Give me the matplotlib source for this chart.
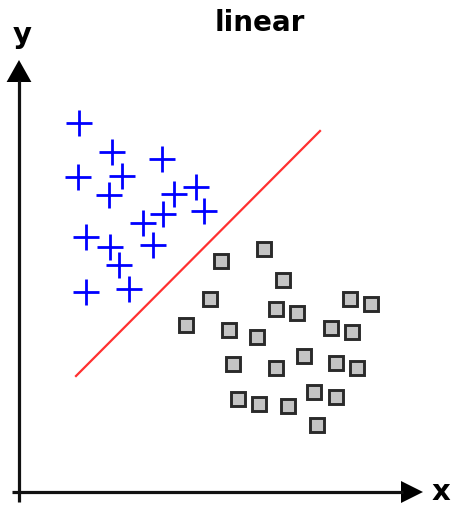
import numpy as np
import matplotlib.pyplot as plt
from matplotlib.patches import Polygon

# class A (plus signs)
plus_x = [15.0, 23.25, 35.75, 14.75, 25.75, 22.5, 44.25, 38.75, 46.25, 36.0,
          31.0, 16.75, 22.75, 33.5, 25.0, 16.75, 27.5]
plus_y = [92.25, 85.0, 83.25, 78.75, 79.0, 74.25, 76.25, 74.5, 70.25, 69.5,
          67.25, 63.75, 61.25, 61.75, 56.75, 50.0, 50.75]

# class B (squares)
sq_x = [50.5, 61.25, 66.0, 47.75, 64.25, 69.5, 82.75, 88.0, 41.75, 52.5,
        59.5, 78.0, 83.25, 53.5, 64.25, 71.25, 79.25, 84.5, 54.75, 60.0,
        67.25, 73.75, 79.25, 74.5]
sq_y = [57.75, 60.75, 53.0, 48.25, 45.75, 44.75, 48.25, 47.0, 41.75, 40.5,
        38.75, 41.0, 40.0, 32.0, 31.0, 34.0, 32.25, 31.0, 23.25, 22.0,
        21.5, 25.0, 23.75, 16.75]

# separating line
line_x = [14.25, 75.25]
line_y = [29.0, 90.25]

fig = plt.figure(figsize=(4.56, 5.06), dpi=100)
ax = fig.add_axes([0, 0, 1, 1])
ax.set_xlim(-4.75, 109.25)
ax.set_ylim(-3.25, 123.25)
ax.axis('off')

# axes with arrow heads
ax.plot([0, 0], [-2.5, 103], color='#111111', lw=2.3, solid_capstyle='butt')
ax.plot([-1.75, 96], [0, 0], color='#111111', lw=2.3, solid_capstyle='butt')
ax.add_patch(Polygon([[-3.1, 102.5], [3.1, 102.5], [0, 108]], closed=True,
                     color='black', lw=0))
ax.add_patch(Polygon([[95.5, -2.75], [95.5, 2.75], [101, 0]], closed=True,
                     color='black', lw=0))

ax.plot(line_x, line_y, color='#ff3030', lw=1.6)

ax.plot(plus_x, plus_y, ls='none', marker='+', ms=19, mew=2.0, color='#0000ff')
ax.plot(sq_x, sq_y, ls='none', marker='s', ms=10.5, mew=2.1,
        markerfacecolor='#c4c4c4', markeredgecolor='#2a2a2a')

ax.text(0.7, 114.5, 'y', fontsize=21, fontweight='bold', ha='center', va='center')
ax.text(105.5, 0.3, 'x', fontsize=21, fontweight='bold', ha='center', va='center')
ax.text(60.25, 117.5, 'linear', fontsize=20, fontweight='bold', ha='center', va='center')

fig.savefig('out.png', dpi=100)
